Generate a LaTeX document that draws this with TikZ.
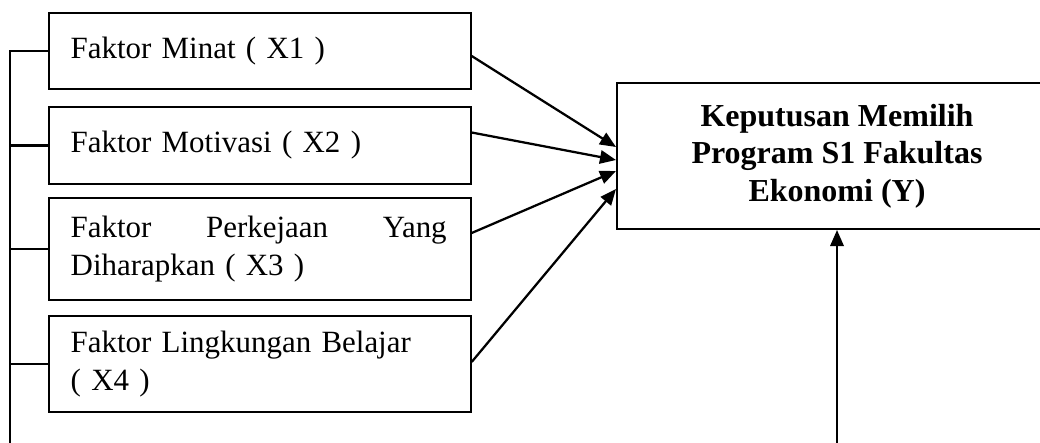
\documentclass[tikz,border=0pt]{standalone}
\usepackage{fontspec}
\setmainfont{Liberation Serif}
\usetikzlibrary{arrows.meta,calc}
\begin{document}
\begin{tikzpicture}[x=0.375pt,y=-0.375pt,
  font=\fontsize{11.6pt}{14pt}\selectfont,
  factor/.style={draw,line width=0.75pt,minimum width=158pt,text width=142pt,inner xsep=8pt,inner ysep=0pt,align=left},
  conn/.style={line width=0.85pt},
  link/.style={conn,-{Triangle[length=6pt,width=5pt]}}]
      \useasboundingbox (0,0) rectangle (1040,442);
      \clip (0,0) rectangle (1040,442);
      \node[factor,minimum height=28.5pt] (x1) at (260,51) {Faktor Minat ( X1 )};
      \node[factor,minimum height=28.9pt] (x2) at (260,145.5) {Faktor Motivasi ( X2 )};
      \node[factor,minimum height=38.25pt] (x3) at (260,249) {\hbox to 141pt{Faktor\hfil Perkejaan\hfil Yang}\\Diharapkan ( X3 )};
      \node[factor,minimum height=36pt] (x4) at (260,364) {Faktor Lingkungan Belajar\\( X4 )};
      \node[draw,line width=0.75pt,minimum width=165pt,minimum height=54.75pt,align=center,font=\fontsize{12pt}{14pt}\selectfont\bfseries] (y) at (837,156) {Keputusan Memilih\\Program S1 Fakultas\\Ekonomi (Y)};
      \coordinate (spine) at (10,460);
      \coordinate (base) at (837,460);
      \draw[conn] (x1.west) -| (spine);
      \foreach \i in {2,3,4} \draw[conn] (x\i.west) -- (x\i.west -| spine);
      \draw[link] ($(x1.east)+(0,5)$) -- ($(y.west)+(0,-9)$);
      \draw[link] ($(x2.east)+(0,-13)$) -- ($(y.west)+(0,4)$);
      \draw[link] ($(x3.east)+(0,-16)$) -- ($(y.west)+(0,15)$);
      \draw[link] ($(x4.east)+(0,-2)$) -- ($(y.west)+(0,33)$);
      \draw[link] (base) -- (y.south);
      \end{tikzpicture}
\end{document}
